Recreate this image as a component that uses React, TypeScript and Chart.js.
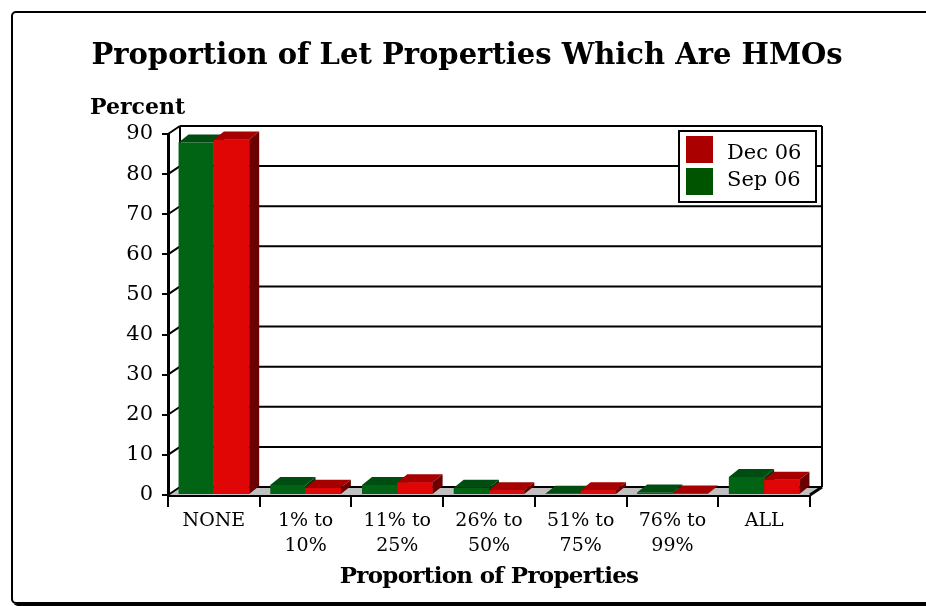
import React, { useEffect, useRef } from "react";
import { Chart, registerables } from "chart.js";

Chart.register(...registerables);

const TITLE = "Proportion of Let Properties Which Are HMOs";
const Y_LABEL = "Percent";
const X_LABEL = "Proportion of Properties";
const CATEGORIES: (string | string[])[] = [
  "NONE",
  ["1% to", "10%"],
  ["11% to", "25%"],
  ["26% to", "50%"],
  ["51% to", "75%"],
  ["76% to", "99%"],
  "ALL",
];
const SEP_06 = [87.9, 2.5, 2.5, 1.8, 0.3, 0.6, 4.5];
const DEC_06 = [88.6, 1.8, 3.2, 1.2, 1.2, 0.4, 3.8];
const SERIES_NAMES = ["Sep 06", "Dec 06"];

const FONT = "'DejaVu Serif', 'Liberation Serif', serif";

const COLORS = {
  green: { front: "#006414", top: "#004d12", side: "#003a0c", swatch: "#005400" },
  red: { front: "#e00606", top: "#a60000", side: "#6c0000", swatch: "#aa0000" },
};

const WALL_DX = 12;
const WALL_DY = 8;
const BAR_DX = 10;
const BAR_DY = 8;

const decorPlugin = {
  id: "decor",
  beforeDatasetsDraw(chart: any) {
    const { ctx, chartArea: a, scales } = chart;
    const y = scales.y;
    ctx.save();
    ctx.fillStyle = "#c0c0c0";
    ctx.beginPath();
    ctx.moveTo(a.left, a.bottom);
    ctx.lineTo(a.right, a.bottom);
    ctx.lineTo(a.right + WALL_DX, a.bottom - WALL_DY);
    ctx.lineTo(a.left + WALL_DX, a.bottom - WALL_DY);
    ctx.closePath();
    ctx.fill();
    ctx.strokeStyle = "#000";
    ctx.lineWidth = 2;
    y.ticks.forEach((t: any) => {
      const py = y.getPixelForValue(t.value);
      ctx.beginPath();
      ctx.moveTo(a.left + WALL_DX, py - WALL_DY);
      ctx.lineTo(a.right + WALL_DX, py - WALL_DY);
      ctx.moveTo(a.left, py);
      ctx.lineTo(a.left + WALL_DX, py - WALL_DY);
      ctx.stroke();
    });
    ctx.beginPath();
    ctx.moveTo(a.left + WALL_DX, a.top - WALL_DY);
    ctx.lineTo(a.left + WALL_DX, a.bottom - WALL_DY);
    ctx.moveTo(a.right + WALL_DX, a.top - WALL_DY);
    ctx.lineTo(a.right + WALL_DX, a.bottom - WALL_DY);
    ctx.stroke();
    ctx.lineWidth = 3;
    ctx.beginPath();
    ctx.moveTo(a.right, a.bottom);
    ctx.lineTo(a.right + WALL_DX, a.bottom - WALL_DY);
    ctx.stroke();
    ctx.restore();
  },
  afterDatasetsDraw(chart: any) {
    const { ctx } = chart;
    const metas = [chart.getDatasetMeta(0), chart.getDatasetMeta(1)];
    const pal = [COLORS.green, COLORS.red];
    const n = metas[0].data.length;
    ctx.save();
    for (let i = 0; i < n; i++) {
      metas.forEach((meta: any, k: number) => {
        const bar = meta.data[i];
        if (k > 0) bar.draw(ctx);
        const { x, y, width, base } = bar.getProps(["x", "y", "width", "base"], true);
        const l = x - width / 2;
        const r = x + width / 2;
        ctx.fillStyle = pal[k].top;
        ctx.beginPath();
        ctx.moveTo(l, y);
        ctx.lineTo(r, y);
        ctx.lineTo(r + BAR_DX, y - BAR_DY);
        ctx.lineTo(l + BAR_DX, y - BAR_DY);
        ctx.closePath();
        ctx.fill();
        ctx.fillStyle = pal[k].side;
        ctx.beginPath();
        ctx.moveTo(r, y);
        ctx.lineTo(r + BAR_DX, y - BAR_DY);
        ctx.lineTo(r + BAR_DX, base - BAR_DY);
        ctx.lineTo(r, base);
        ctx.closePath();
        ctx.fill();
      });
    }
    ctx.restore();
  },
  afterDraw(chart: any) {
    const { ctx, chartArea: a } = chart;
    ctx.save();
    ctx.fillStyle = "#000";
    // title
    ctx.font = `bold 29px ${FONT}`;
    ctx.textAlign = "center";
    ctx.textBaseline = "middle";
    ctx.fillText(TITLE, 467, 56);
    // x axis title
    ctx.font = `bold 23px ${FONT}`;
    (ctx as any).letterSpacing = "-0.7px";
    ctx.fillText(X_LABEL, (a.left + a.right) / 2, 577);
    (ctx as any).letterSpacing = "0px";
    // y label
    ctx.font = `bold 22px ${FONT}`;
    ctx.textAlign = "left";
    ctx.fillText(Y_LABEL, 90, 108);
    // legend
    const lx = 679, ly = 131, lw = 137, lh = 71;
    ctx.fillStyle = "#fff";
    ctx.fillRect(lx, ly, lw, lh);
    ctx.strokeStyle = "#000";
    ctx.lineWidth = 2;
    ctx.strokeRect(lx, ly, lw, lh);
    const items = [
      { label: chart.data.datasets[1].label, color: COLORS.red.swatch },
      { label: chart.data.datasets[0].label, color: COLORS.green.swatch },
    ];
    ctx.font = `21px ${FONT}`;
    ctx.textBaseline = "alphabetic";
    items.forEach((it, j) => {
      ctx.fillStyle = it.color;
      ctx.fillRect(686, 136 + j * 32, 27, 27);
      ctx.fillStyle = "#000";
      ctx.fillText(it.label, 727, 159 + j * 26.5);
    });
    ctx.restore();
  },
};

export default function App() {
  const ref = useRef<HTMLCanvasElement>(null);
  useEffect(() => {
    if (!ref.current) return;
    const chart = new Chart(ref.current, {
      type: "bar",
      data: {
        labels: CATEGORIES,
        datasets: [
          { label: SERIES_NAMES[0], data: SEP_06, backgroundColor: COLORS.green.front, borderWidth: 0 },
          { label: SERIES_NAMES[1], data: DEC_06, backgroundColor: COLORS.red.front, borderWidth: 0 },
        ],
      },
      options: {
        animation: false,
        responsive: false,
        devicePixelRatio: 1,
        layout: { padding: { top: 134, right: 116, left: 0, bottom: 0 } },
        datasets: { bar: { categoryPercentage: 0.77, barPercentage: 1 } },
        plugins: { legend: { display: false }, tooltip: { enabled: false }, title: { display: false } },
        scales: {
          x: {
            afterFit: (s: any) => { s.height = 111; },
            grid: { display: true, drawOnChartArea: false, drawTicks: true, tickLength: 12, color: "#000", lineWidth: 2, offset: true },
            border: { display: true, color: "#000", width: 3 },
            ticks: { color: "#000", font: { family: FONT, size: 19, lineHeight: 1.3 }, padding: 2, maxRotation: 0, autoSkip: false },
            title: { display: false },
          },
          y: {
            min: 0,
            max: 90,
            afterFit: (s: any) => { s.width = 168; },
            grid: { display: true, drawOnChartArea: false, drawTicks: true, tickLength: 6, color: "#000", lineWidth: 2 },
            border: { display: true, color: "#000", width: 3 },
            ticks: { stepSize: 10, color: "#000", font: { family: FONT, size: 21 }, padding: 9 },
          },
        },
      },
      plugins: [decorPlugin],
    });
    return () => chart.destroy();
  }, []);
  return (
    <div style={{ position: "fixed", left: 0, top: 0, width: 926, height: 606, background: "#fff", overflow: "hidden" }}>
      <div
        style={{
          position: "absolute",
          left: 11,
          top: 11,
          width: 940,
          height: 589,
          border: "2px solid #000",
          borderRadius: 5,
          boxShadow: "2px 2px 0 #000",
        }}
      />
      <canvas ref={ref} width={926} height={606} style={{ position: "absolute", left: 0, top: 0, display: "block" }} />
    </div>
  );
}
